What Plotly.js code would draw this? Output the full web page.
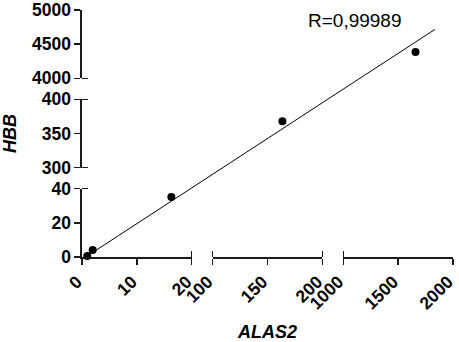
<!DOCTYPE html>
<html>
<head>
<meta charset="utf-8">
<script src="https://cdn.plot.ly/plotly-3.0.1.min.js"></script>
<style>
  html, body { margin: 0; padding: 0; background: #fff; }
  #plot { width: 459px; height: 342px; }
</style>
</head>
<body>
<div id="plot"></div>
<script>
// ALAS2 vs HBB, broken axes (three segments each)
var alas2 = [0.96, 1.95, 16.3, 163.6, 1658];
var hbb = [0.6, 4.1, 35.1, 368, 4387];
// which axis segment each point falls in
var seg = [0, 0, 0, 1, 2];

// fitted line, start and end
var fitX = [0.96, 1835];
var fitY = [0.6, 4716];

var xRanges = [[0, 20], [100, 200], [1000, 2000]];
var yRanges = [[0, 40], [300, 400], [4000, 5000]];
var xTicks = [[0, 10, 20], [100, 150, 200], [1000, 1500, 2000]];
var yTicks = [[0, 20, 40], [300, 350, 400], [4000, 4500, 5000]];
var xBreakEnds = [[20], [100, 200], [1000]];
var yBreakEnds = [[40], [300, 400], [4000]];

var rText = "R=0,99989";

function domains(gap) {
    var s = (1 - 2 * gap) / 3;
    return [0, 1, 2].map(i => [i * (s + gap), i * (s + gap) + s]);
}
var xDom = domains(0.0566);
var yDom = domains(0.085);

// data value -> paper position on a broken axis
function toPaper(v, ranges, dom) {
    var k = 0;
    for (var i = 0; i < ranges.length; i++) if (v >= ranges[i][0]) k = i;
    var r = ranges[k], d = dom[k];
    return d[0] + (v - r[0]) / (r[1] - r[0]) * (d[1] - d[0]);
}

var tickFont = { family: "Liberation Sans, Arial, sans-serif", size: 17.5, color: "#000", weight: "bold" };
var axisCol = "#1a1a1a";

var data = [];
[0, 1, 2].forEach(function (k) {
    var xs = [], ys = [];
    alas2.forEach(function (v, i) { if (seg[i] === k) { xs.push(v); ys.push(hbb[i]); } });
    data.push({
        x: xs, y: ys,
        xaxis: k ? "x" + (k + 1) : "x",
        yaxis: k ? "y" + (k + 1) : "y",
        type: "scatter", mode: "markers",
        marker: { color: "#000", size: 8 },
        cliponaxis: false,
        showlegend: false
    });
});

// fit line drawn across the breaks on a full-size overlay
data.push({
    x: fitX.map(v => toPaper(v, xRanges, xDom)),
    y: fitY.map(v => toPaper(v, yRanges, yDom)),
    xaxis: "x4", yaxis: "y4",
    type: "scatter", mode: "lines",
    line: { color: "#000", width: 1 },
    showlegend: false
});

function xAxis(k) {
    return {
        domain: xDom[k], range: xRanges[k], anchor: "y",
        tickmode: "array", tickvals: xTicks[k], tickangle: -45,
        ticks: "outside", ticklen: 6, tickwidth: 1.6, tickcolor: axisCol,
        showline: true, linecolor: axisCol, linewidth: 1.6,
        showgrid: false, zeroline: false, tickfont: tickFont,
        ticklabeloverflow: "allow", ticklabelshift: -5,
        minor: { tickmode: "array", tickvals: xBreakEnds[k], ticks: "inside", ticklen: 6, tickwidth: 1.6, tickcolor: axisCol }
    };
}
function yAxis(k) {
    return {
        domain: yDom[k], range: yRanges[k], anchor: "x",
        tickmode: "array", tickvals: yTicks[k],
        ticks: "outside", ticklen: 6, tickwidth: 1.6, tickcolor: axisCol,
        showline: true, linecolor: axisCol, linewidth: 1.6,
        showgrid: false, zeroline: false, tickfont: tickFont,
        ticklabeloverflow: "allow",
        minor: { tickmode: "array", tickvals: yBreakEnds[k], ticks: "inside", ticklen: 6, tickwidth: 1.6, tickcolor: axisCol }
    };
}

var titleFont = { family: "Liberation Sans, Arial, sans-serif", size: 18, color: "#000", weight: "bold", style: "italic" };

var layout = {
    width: 459, height: 342,
    margin: { l: 82, r: 6, t: 10, b: 85 },
    paper_bgcolor: "#fff", plot_bgcolor: "rgba(0,0,0,0)",
    showlegend: false,
    xaxis: xAxis(0), xaxis2: xAxis(1), xaxis3: xAxis(2),
    yaxis: yAxis(0), yaxis2: yAxis(1), yaxis3: yAxis(2),
    xaxis4: { domain: [0, 1], range: [0, 1], anchor: "y4", visible: false },
    yaxis4: { domain: [0, 1], range: [0, 1], anchor: "x4", visible: false },
    annotations: [{
        text: rText, xref: "x3", yref: "y3", x: 1110, y: 4850,
        showarrow: false,
        font: { family: "Liberation Sans, Arial, sans-serif", size: 19, color: "#000" }
    }]
};
layout.xaxis2.title = { text: "ALAS2", font: titleFont, standoff: 22 };
layout.yaxis2.title = { text: "HBB", font: titleFont, standoff: 22 };

Plotly.newPlot("plot", data, layout, { staticPlot: true });
</script>
</body>
</html>
